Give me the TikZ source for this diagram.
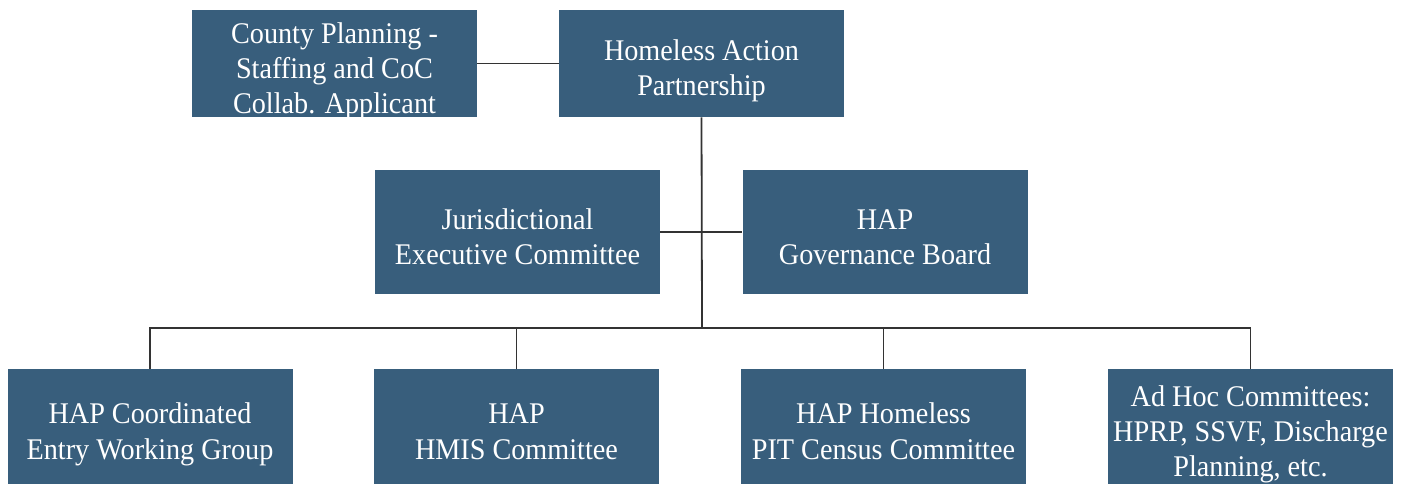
\documentclass[tikz,border=0pt]{standalone}
\usepackage{fontspec}
\setmainfont[FakeStretch=0.94]{Liberation Serif}
\usepackage{xcolor}
\definecolor{hapblue}{HTML}{385E7C}
\newcommand{\boxlines}[1]{\raisebox{-4pt}[\height][\depth]{\begin{tabular}{@{}c@{}}#1\end{tabular}}}

\begin{document}
\begin{tikzpicture}[x=0.5pt,y=-0.5pt,
  box/.style={fill=hapblue,text=white,inner sep=0pt,
    minimum width=142.5pt,font=\fontsize{15}{17.5}\selectfont},
  link/.style={draw=black!80,line width=0.9pt}]
\useasboundingbox (0,0) rectangle (1401,485);
% top row
\node[box,minimum height=53.5pt] (county) at (334.5,63.5) {\boxlines{County Planning -\\Staffing and CoC\\Collab. Applicant}};
\node[box,minimum height=53.5pt] (hap) at (701.5,63.5) {\boxlines{Homeless Action\\Partnership}};
% middle row
\node[box,minimum height=62pt] (jec) at (517.5,232) {\boxlines{Jurisdictional\\Executive Committee}};
\node[box,minimum height=62pt] (gov) at (885,232) {\boxlines{HAP\\Governance Board}};
% bottom row
\node[box,minimum height=57.5pt] (cewg) at (150,426.5) {\boxlines{HAP Coordinated\\Entry Working Group}};
\node[box,minimum height=57.5pt] (hmis) at (516.5,426.5) {\boxlines{HAP\\HMIS Committee}};
\node[box,minimum height=57.5pt] (pit) at (883.5,426.5) {\boxlines{HAP Homeless\\PIT Census Committee}};
\node[box,minimum height=57.5pt] (adhoc) at (1250.5,426.5) {\boxlines{Ad Hoc Committees:\\HPRP, SSVF, Discharge\\Planning, etc.}};
% connectors
\coordinate (bus) at (702,328);
\draw[link] (county.east) -- (hap.west);
\draw[link] (hap.south) -- (bus);
\draw[link] (jec.east) -- (gov.west);
\draw[link] (cewg.north) |- (bus) -| (adhoc.north);
\draw[link] (hmis.north) -- (hmis |- bus);
\draw[link] (pit.north) -- (pit |- bus);
\end{tikzpicture}
\end{document}
